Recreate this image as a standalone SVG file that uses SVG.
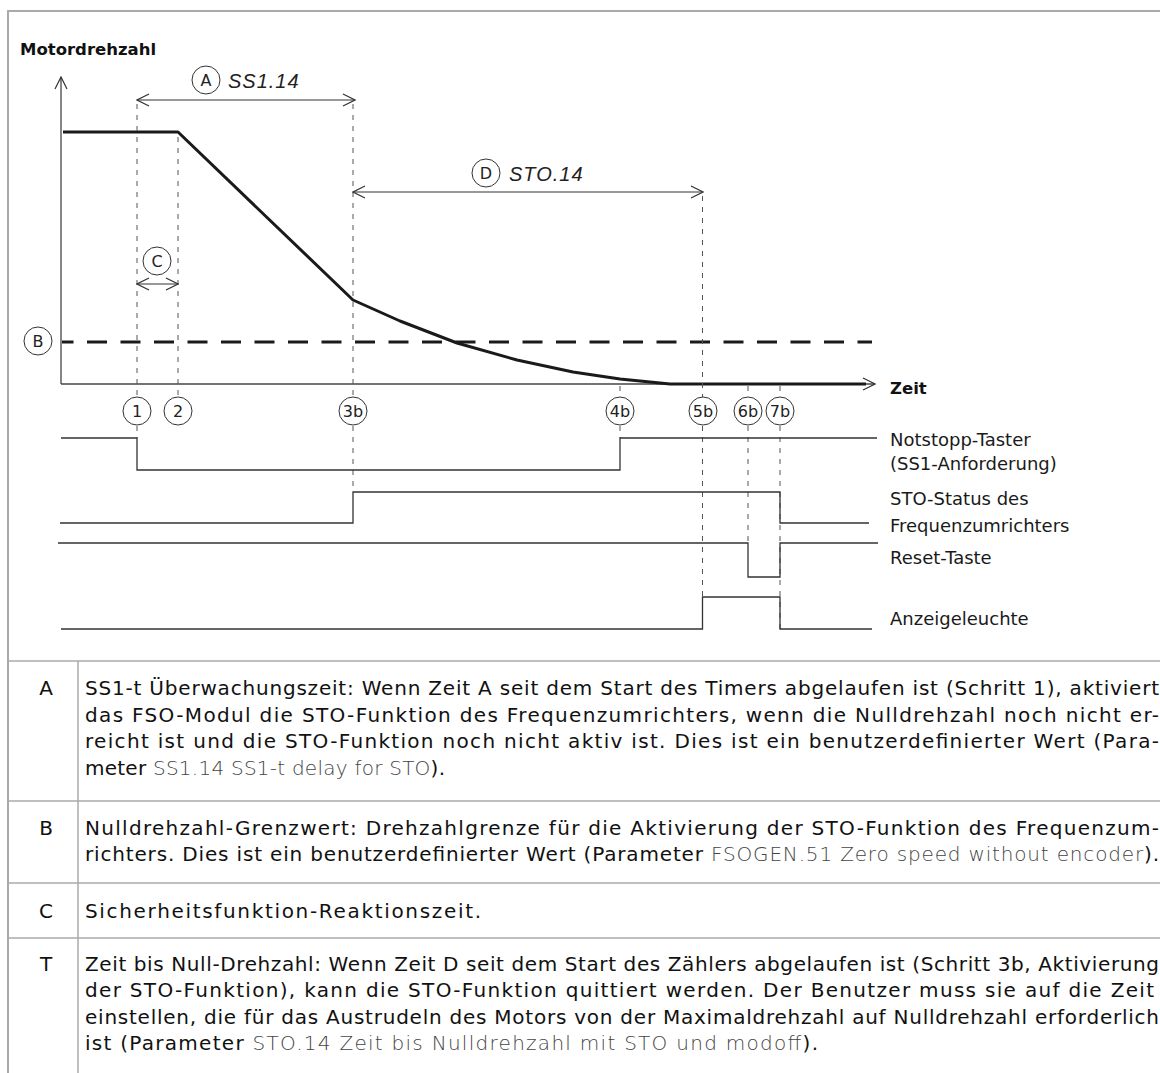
<svg xmlns="http://www.w3.org/2000/svg" width="1160" height="1073" viewBox="0 0 1160 1073">
<defs>
<marker id="arr" viewBox="0 0 14 14" refX="13" refY="7" markerWidth="14" markerHeight="14" markerUnits="userSpaceOnUse" orient="auto-start-reverse">
<path d="M1,1 L13,7 L1,13" fill="none" stroke="#333" stroke-width="1.2"/>
</marker>
<style>
.frame{stroke:#aaaaaa;stroke-width:2;fill:none}
.sep{stroke:#aaaaaa;stroke-width:1.5;fill:none}
.axis{stroke:#444;stroke-width:1.3;fill:none}
.speed{stroke:#1a1a1a;stroke-width:3;fill:none;stroke-linejoin:round}
.lim{stroke:#1a1a1a;stroke-width:3;fill:none;stroke-dasharray:20 13.5;stroke-dashoffset:8.5}
.vd{stroke:#555;stroke-width:1;fill:none;stroke-dasharray:5 6}
.dim{stroke:#333;stroke-width:1.2;fill:none;marker-start:url(#arr);marker-end:url(#arr)}
.sig{stroke:#333;stroke-width:1.3;fill:none}
.circ{fill:#fff;stroke:#333;stroke-width:1}
.ct{font-family:"DejaVu Sans",Verdana,sans-serif;font-size:16px;fill:#222;text-anchor:middle}
.it{font-family:"Liberation Sans",Arial,sans-serif;font-style:italic;font-size:20px;letter-spacing:1px;fill:#222}
.bold{font-family:"DejaVu Sans",Verdana,sans-serif;font-weight:bold;font-size:16.5px;fill:#111}
.lbl{font-family:"DejaVu Sans",Verdana,sans-serif;font-size:18px;fill:#1a1a1a}
.tb{font-family:"DejaVu Sans",Verdana,sans-serif;font-size:20px;fill:#111}
.tk{font-family:"DejaVu Sans",Verdana,sans-serif;font-size:20px;fill:#111;text-anchor:middle}
.lt{font-weight:300;fill:#444}
</style>
</defs>

<g id="frame">
<line class="frame" x1="8" y1="11" x2="1160" y2="11"/>
<line class="frame" x1="8" y1="10" x2="8" y2="1073"/>
</g>

<g id="chart">
<text class="bold" x="20" y="55">Motordrehzahl</text>
<text class="bold" x="890" y="394">Zeit</text>
<line class="axis" x1="61" y1="384" x2="61" y2="77" marker-end="url(#arr)"/>
<line class="axis" x1="61" y1="384" x2="875" y2="384" marker-end="url(#arr)"/>
<line class="lim" x1="62" y1="342" x2="872" y2="342"/>
<polyline class="speed" points="63,132 178,132 353,300 400,321 457,343 517,360 573,372 620,379 670,384 866,384"/>
</g>

<g id="guides">
<line class="vd" x1="137" y1="104" x2="137" y2="397"/>
<line class="vd" x1="137" y1="426" x2="137" y2="438"/>
<line class="vd" x1="178" y1="137" x2="178" y2="397"/>
<line class="vd" x1="353" y1="104" x2="353" y2="397"/>
<line class="vd" x1="353" y1="426" x2="353" y2="492"/>
<line class="vd" x1="620" y1="386" x2="620" y2="396"/>
<line class="vd" x1="620" y1="426" x2="620" y2="438"/>
<line class="vd" x1="702.5" y1="196" x2="702.5" y2="397"/>
<line class="vd" x1="702.5" y1="426" x2="702.5" y2="597"/>
<line class="vd" x1="748" y1="386" x2="748" y2="396"/>
<line class="vd" x1="748" y1="426" x2="748" y2="543"/>
<line class="vd" x1="780" y1="386" x2="780" y2="396"/>
<line class="vd" x1="780" y1="426" x2="780" y2="629"/>
</g>

<g id="connectors">
<line class="dim" x1="137" y1="100" x2="355" y2="100"/>
<line class="dim" x1="353" y1="192" x2="703" y2="192"/>
<line class="dim" x1="137" y1="284" x2="178" y2="284"/>
</g>

<g id="label-A"><circle class="circ" cx="206" cy="80" r="14"/><text class="ct" x="206" y="86">A</text><text class="it" x="228" y="88">SS1.14</text></g>
<g id="label-D"><circle class="circ" cx="486" cy="173" r="14"/><text class="ct" x="486" y="179">D</text><text class="it" x="509" y="181">STO.14</text></g>
<g id="label-C"><circle class="circ" cx="157" cy="261" r="14"/><text class="ct" x="157" y="267">C</text></g>
<g id="label-B"><circle class="circ" cx="38" cy="341" r="14"/><text class="ct" x="38" y="347">B</text></g>

<g id="step-1"><circle class="circ" cx="137" cy="411" r="14"/><text class="ct" x="137" y="417">1</text></g>
<g id="step-2"><circle class="circ" cx="178" cy="411" r="14"/><text class="ct" x="178" y="417">2</text></g>
<g id="step-3b"><circle class="circ" cx="353" cy="411" r="14"/><text class="ct" x="353" y="417">3b</text></g>
<g id="step-4b"><circle class="circ" cx="620" cy="411" r="14"/><text class="ct" x="620" y="417">4b</text></g>
<g id="step-5b"><circle class="circ" cx="703" cy="411" r="14"/><text class="ct" x="703" y="417">5b</text></g>
<g id="step-6b"><circle class="circ" cx="748" cy="411" r="14"/><text class="ct" x="748" y="417">6b</text></g>
<g id="step-7b"><circle class="circ" cx="780" cy="411" r="14"/><text class="ct" x="780" y="417">7b</text></g>

<g id="signal-notstopp">
<polyline class="sig" points="61,438 137,438 137,470 620,470 620,438 877,438"/>
<text class="lbl" x="890" y="446">Notstopp-Taster</text>
<text class="lbl" x="890" y="470">(SS1-Anforderung)</text>
</g>
<g id="signal-sto">
<polyline class="sig" points="60,523 353,523 353,492 780,492 780,523 869,523"/>
<text class="lbl" x="890" y="505">STO-Status des</text>
<text class="lbl" x="890" y="532">Frequenzumrichters</text>
</g>
<g id="signal-reset">
<polyline class="sig" points="58,543 748,543 748,577 780,577 780,543 878,543"/>
<text class="lbl" x="890" y="564">Reset-Taste</text>
</g>
<g id="signal-lamp">
<polyline class="sig" points="61,629 702.5,629 702.5,597 780,597 780,629 872,629"/>
<text class="lbl" x="890" y="625">Anzeigeleuchte</text>
</g>

<g id="table">
<line class="sep" x1="8" y1="661" x2="1160" y2="661"/>
<line class="sep" x1="8" y1="801" x2="1160" y2="801"/>
<line class="sep" x1="8" y1="883" x2="1160" y2="883"/>
<line class="sep" x1="8" y1="938" x2="1160" y2="938"/>
<line class="sep" x1="78" y1="661" x2="78" y2="1073"/>

<text class="tk" x="46" y="695">A</text>
<text class="tb" x="85" y="695" textLength="1074" lengthAdjust="spacing">SS1-t Überwachungszeit: Wenn Zeit A seit dem Start des Timers abgelaufen ist (Schritt 1), aktiviert</text>
<text class="tb" x="85" y="722" textLength="1074" lengthAdjust="spacing">das FSO-Modul die STO-Funktion des Frequenzumrichters, wenn die Nulldrehzahl noch nicht er-</text>
<text class="tb" x="85" y="748" textLength="1074" lengthAdjust="spacing">reicht ist und die STO-Funktion noch nicht aktiv ist. Dies ist ein benutzerdefinierter Wert (Para-</text>
<text class="tb" x="85" y="775" textLength="360" lengthAdjust="spacing">meter <tspan class="lt">SS1.14 SS1-t delay for STO</tspan>).</text>

<text class="tk" x="46" y="835">B</text>
<text class="tb" x="85" y="835" textLength="1074" lengthAdjust="spacing">Nulldrehzahl-Grenzwert: Drehzahlgrenze für die Aktivierung der STO-Funktion des Frequenzum-</text>
<text class="tb" x="85" y="861" textLength="1074" lengthAdjust="spacing">richters. Dies ist ein benutzerdefinierter Wert (Parameter <tspan class="lt">FSOGEN.51 Zero speed without encoder</tspan>).</text>

<text class="tk" x="46" y="918">C</text>
<text class="tb" x="85" y="918" textLength="396" lengthAdjust="spacing">Sicherheitsfunktion-Reaktionszeit.</text>

<text class="tk" x="46" y="971">T</text>
<text class="tb" x="85" y="971" textLength="1074" lengthAdjust="spacing">Zeit bis Null-Drehzahl: Wenn Zeit D seit dem Start des Zählers abgelaufen ist (Schritt 3b, Aktivierung</text>
<text class="tb" x="85" y="997" textLength="1069" lengthAdjust="spacing">der STO-Funktion), kann die STO-Funktion quittiert werden. Der Benutzer muss sie auf die Zeit</text>
<text class="tb" x="85" y="1024" textLength="1074" lengthAdjust="spacing">einstellen, die für das Austrudeln des Motors von der Maximaldrehzahl auf Nulldrehzahl erforderlich</text>
<text class="tb" x="85" y="1050" textLength="733" lengthAdjust="spacing">ist (Parameter <tspan class="lt">STO.14 Zeit bis Nulldrehzahl mit STO und modoff</tspan>).</text>
</g>
</svg>
